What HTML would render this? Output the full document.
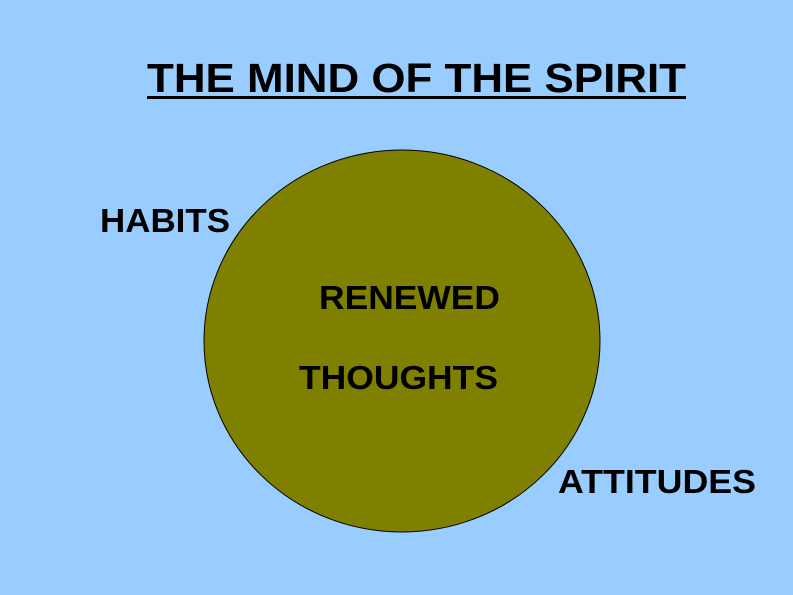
<!DOCTYPE html>
<html><head><style>html,body{margin:0;padding:0;background:#99ccff;}svg{display:block}</style></head>
<body>
<svg width="793" height="595" xmlns="http://www.w3.org/2000/svg" font-family="Liberation Sans, Arial, sans-serif" font-weight="bold">
<rect width="793" height="595" fill="#99ccff"/>
<text x="147" y="92" font-size="41" textLength="539" lengthAdjust="spacingAndGlyphs" fill="#000">THE MIND OF THE SPIRIT</text>
<rect x="147" y="96" width="539" height="3" fill="#000"/>
<ellipse cx="402" cy="341" rx="198" ry="191" fill="#808000" stroke="#000" stroke-width="1"/>
<text x="100" y="232" font-size="33" textLength="130" lengthAdjust="spacingAndGlyphs">HABITS</text>
<text x="319" y="309" font-size="33" textLength="181" lengthAdjust="spacingAndGlyphs">RENEWED</text>
<text x="299" y="389" font-size="33" textLength="199" lengthAdjust="spacingAndGlyphs">THOUGHTS</text>
<text x="558" y="493" font-size="33" textLength="198" lengthAdjust="spacingAndGlyphs">ATTITUDES</text>
</svg>
</body></html>
